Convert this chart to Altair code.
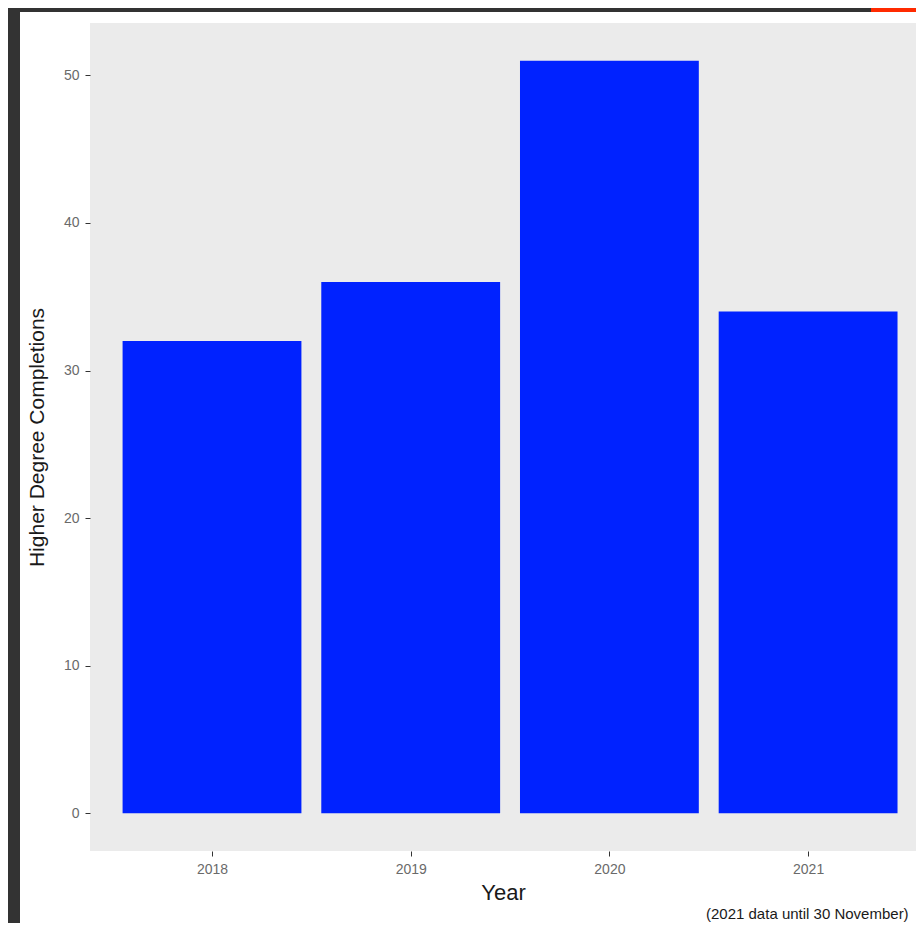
import altair as alt
import pandas as pd

years = [2018, 2019, 2020, 2021]
completions = [32, 36, 51, 34]
y_ticks = [0, 10, 20, 30, 40, 50]
x_label = "Year"
y_label = "Higher Degree Completions"
caption = "(2021 data until 30 November)"

df = pd.DataFrame({"year": years, "value": completions})

W, H = 826, 828
FONT = "Liberation Sans"

base = alt.Chart(df)

# white page area inside the dark frame
white = base.mark_rect(color="white").encode(
    x=alt.value(-70), x2=alt.value(W), y=alt.value(-11), y2=alt.value(H + 90)
)
# red corner accent
red = base.mark_rect(color="#FF2A00").encode(
    x=alt.value(781), x2=alt.value(W), y=alt.value(-15), y2=alt.value(-11)
)
# gray panel
panel = base.mark_rect(color="#EBEBEB").encode(
    x=alt.value(0), x2=alt.value(W), y=alt.value(0), y2=alt.value(H)
)

xscale = alt.Scale(domain=[2017.386, 2021.543], nice=False, zero=False)
yscale = alt.Scale(domain=[-2.55, 53.55], nice=False, zero=False)

bars = base.transform_calculate(
    x0="datum.year - 0.45", x1="datum.year + 0.45", base0="0"
).mark_rect(color="#0022FF").encode(
    x=alt.X("x0:Q", scale=xscale, axis=alt.Axis(
        values=years, format="d", title=x_label, grid=False, domain=False,
        tickSize=5, tickColor="#333333", labelColor="#6a6a6a", labelFontSize=14,
        labelFont=FONT, labelPadding=6, titleFont=FONT, titleFontSize=22,
        titleFontWeight="normal", titleColor="#1a1a1a", titleBaseline="middle",
        titleY=41, zindex=1)),
    x2="x1:Q",
    y=alt.Y("base0:Q", scale=yscale, axis=alt.Axis(
        values=y_ticks, title=y_label, grid=False, domain=False,
        tickSize=5, tickColor="#333333", labelColor="#6a6a6a", labelFontSize=14,
        labelFont=FONT, labelPadding=6, titleFont=FONT, titleFontSize=21,
        titleFontWeight="normal", titleColor="#1a1a1a", titleBaseline="middle",
        titleX=-53, titleY=H / 2, titleAngle=-90, zindex=1)),
    y2="value:Q",
)

cap = base.transform_filter("datum.year == 2021").mark_text(
    text=caption, align="left", baseline="middle", font=FONT, fontSize=15,
    color="#1a1a1a"
).encode(x=alt.value(616), y=alt.value(H + 63))

chart = alt.layer(white, red, panel, bars, cap).properties(
    width=W, height=H,
    autosize=alt.AutoSizeParams(type="none"),
    padding={"left": 82, "top": 15, "right": 0, "bottom": 72},
    background="#333333",
).configure_view(stroke=None, fill=None)

chart.save("out.html", embed_options={"renderer": "svg", "actions": False})
